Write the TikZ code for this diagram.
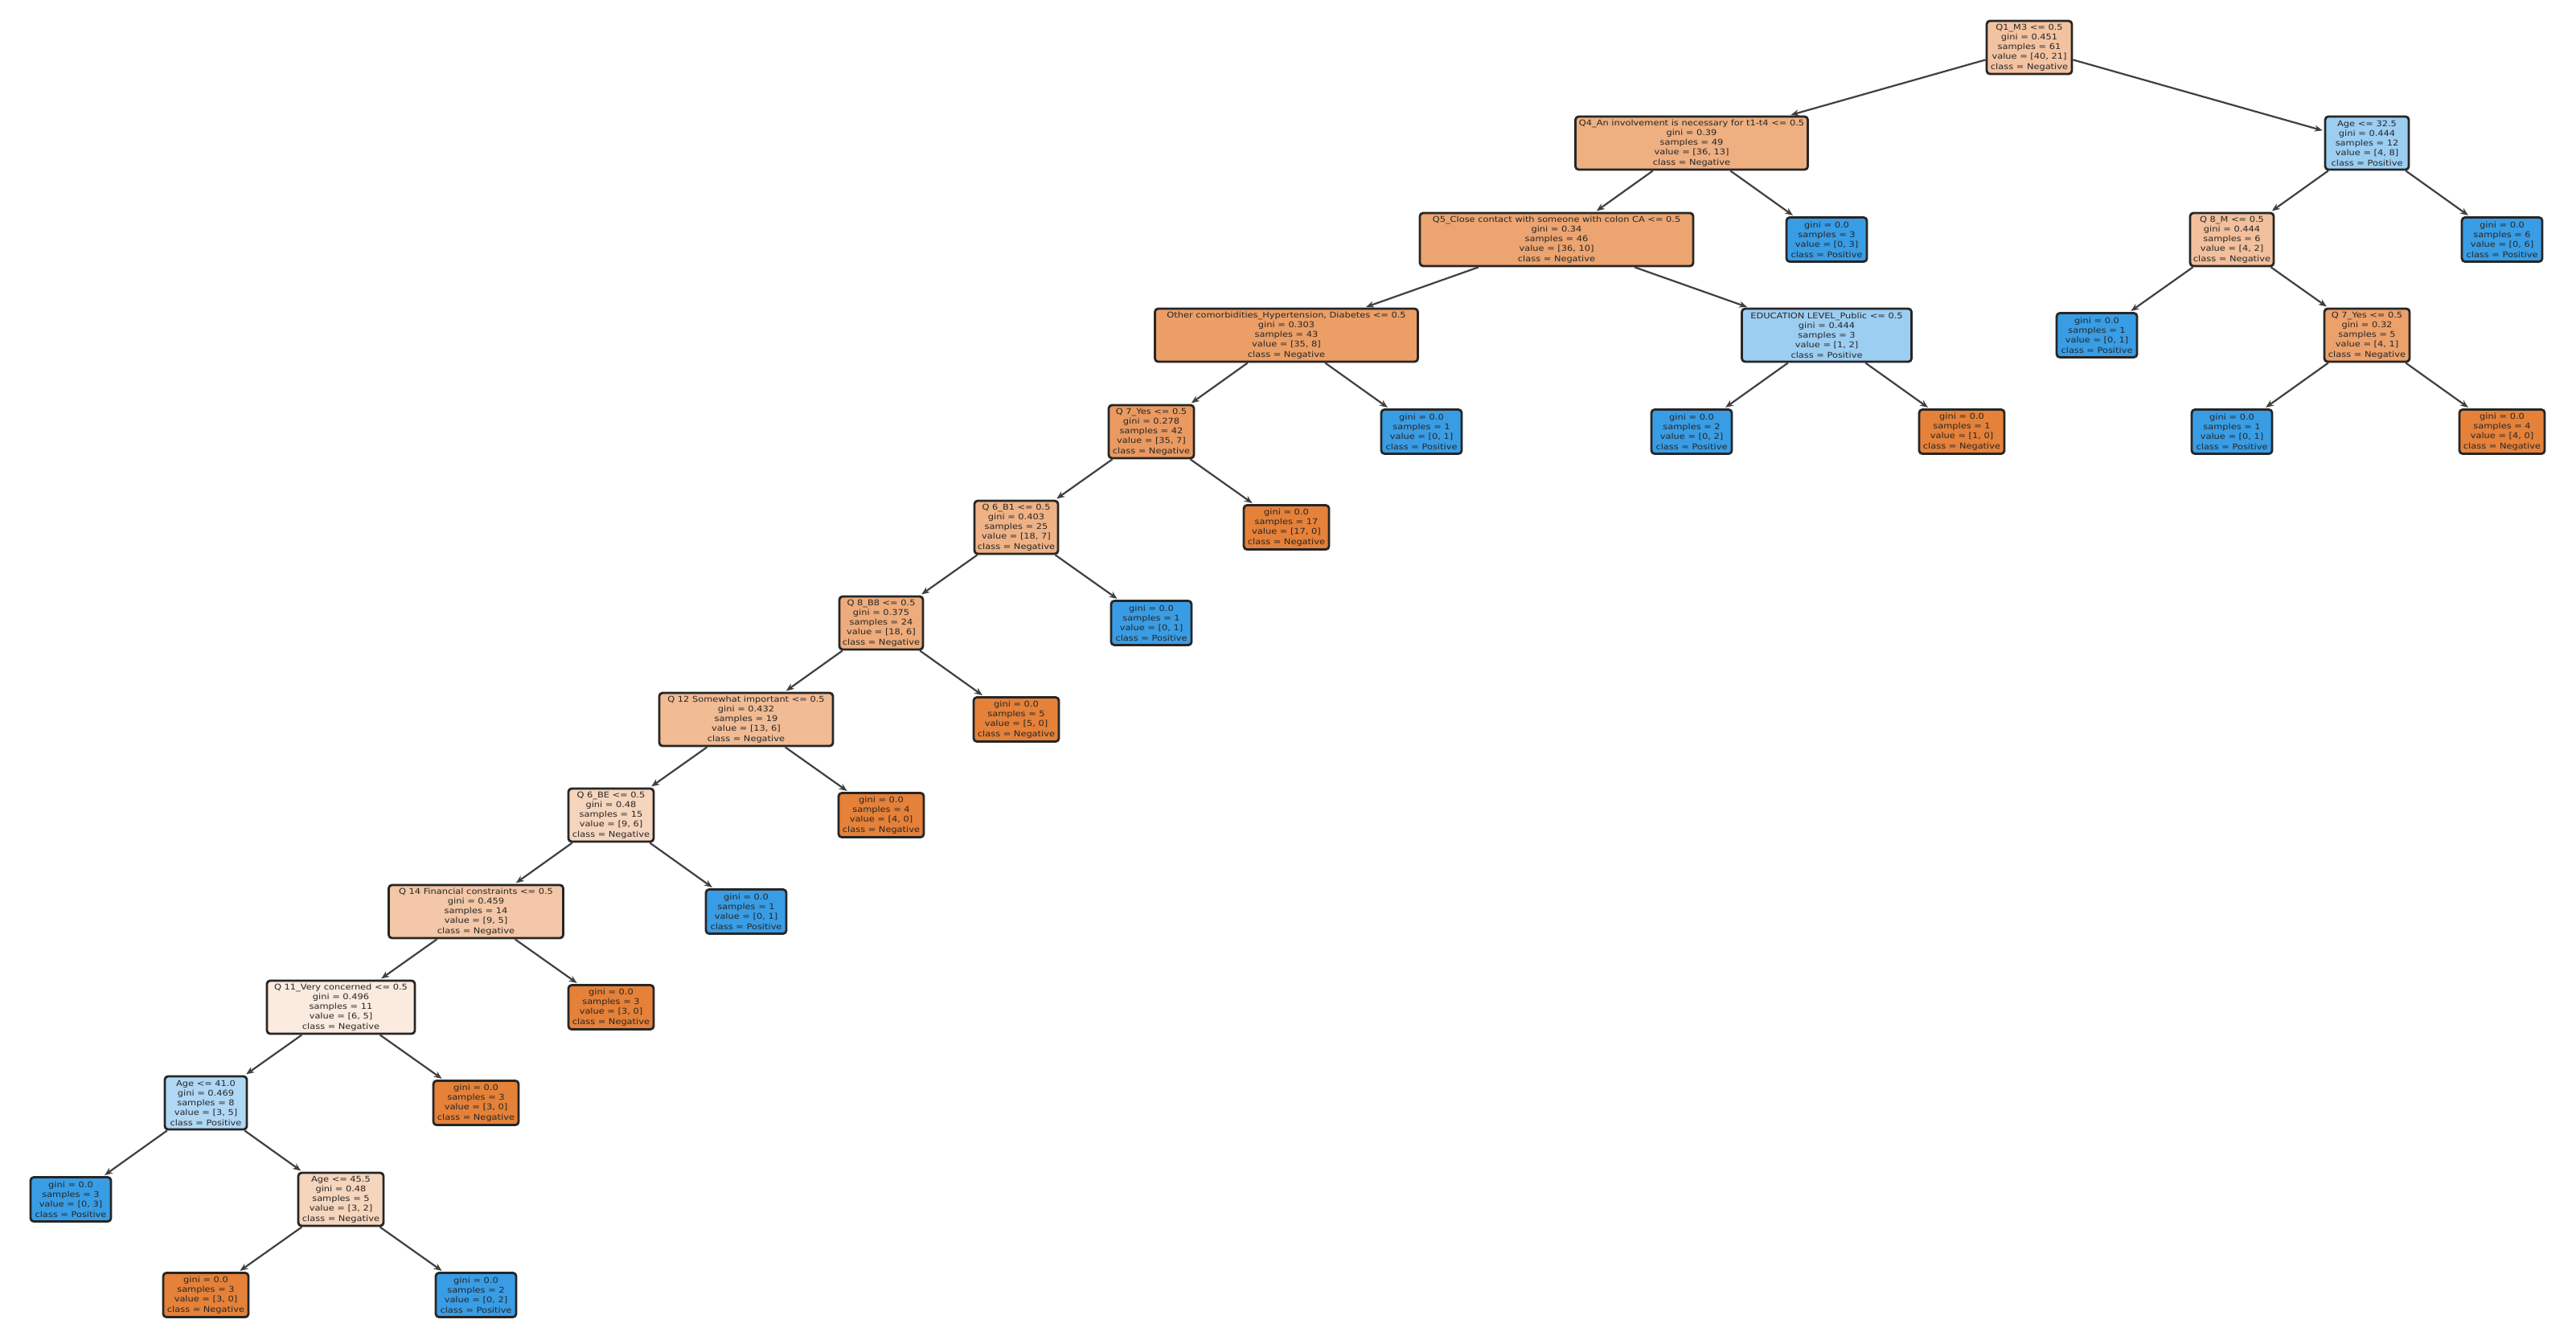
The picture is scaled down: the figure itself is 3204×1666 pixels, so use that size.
\documentclass[tikz,border=0pt]{standalone}
\usepackage{fontspec}
\setmainfont[FakeStretch=1.15]{DejaVu Sans}
\usetikzlibrary{arrows.meta}
\definecolor{cOr}{RGB}{229,129,57}
\definecolor{cBl}{RGB}{57,157,229}
\definecolor{cRoot}{RGB}{243,195,161}
\definecolor{cQfour}{RGB}{238,175,129}
\definecolor{cAthree}{RGB}{156,206,242}
\definecolor{cQfive}{RGB}{236,164,112}
\definecolor{cQeightr}{RGB}{242,192,156}
\definecolor{cOther}{RGB}{235,158,102}
\definecolor{cEdu}{RGB}{156,206,242}
\definecolor{cQCr}{RGB}{236,161,107}
\definecolor{cQCY}{RGB}{234,154,97}
\definecolor{cQsixb}{RGB}{239,178,134}
\definecolor{cQeightb}{RGB}{238,171,123}
\definecolor{cQtwelve}{RGB}{241,187,148}
\definecolor{cQsixe}{RGB}{246,213,189}
\definecolor{cQfourteen}{RGB}{243,199,167}
\definecolor{cQeleven}{RGB}{251,234,222}
\definecolor{cAfortyone}{RGB}{176,216,245}
\definecolor{cAfortyfive}{RGB}{246,213,189}
\tikzset{
  tn/.style={draw=black!85, line width=1.4pt, rounded corners=2pt, align=center,
    inner sep=1pt, font=\fontsize{4.95}{6.1}\selectfont, text=black!85},
  split/.style={tn, minimum height=33pt},
  leaf/.style={tn, minimum height=27.5pt},
  lo/.style={leaf, fill=cOr, minimum width=53pt},
  lb/.style={leaf, fill=cBl, minimum width=50pt},
  edge/.style={draw=black!75, line width=1.1pt, -{Stealth[length=5pt,width=4pt]}, shorten >=1pt},
}
\begin{document}
\begin{tikzpicture}[x=0.5pt,y=-0.5pt]
\fill[white] (0,0) rectangle (3204,1666);
\useasboundingbox (0,0) rectangle (3204,1666);
% row 0
\node[split, fill=cRoot, minimum width=53pt] (root) at (2524,59) {Q1\_M3 <= 0.5\\gini = 0.451\\samples = 61\\value = [40, 21]\\class = Negative};
% row 1
\node[split, fill=cQfour, minimum width=144.5pt] (q4) at (2104,178) {Q4\_An involvement is necessary for t1-t4 <= 0.5\\gini = 0.39\\samples = 49\\value = [36, 13]\\class = Negative};
\node[split, fill=cAthree, minimum width=52pt] (a325) at (2944,178) {Age <= 32.5\\gini = 0.444\\samples = 12\\value = [4, 8]\\class = Positive};
% row 2
\node[split, fill=cQfive, minimum width=170pt] (q5) at (1936,298) {Q5\_Close contact with someone with colon CA <= 0.5\\gini = 0.34\\samples = 46\\value = [36, 10]\\class = Negative};
\node[lb] (lb1) at (2272,298) {gini = 0.0\\samples = 3\\value = [0, 3]\\class = Positive};
\node[split, fill=cQeightr, minimum width=52pt] (q8r) at (2776,298) {Q 8\_M <= 0.5\\gini = 0.444\\samples = 6\\value = [4, 2]\\class = Negative};
\node[lb] (lb2) at (3112,298) {gini = 0.0\\samples = 6\\value = [0, 6]\\class = Positive};
% row 3
\node[split, fill=cOther, minimum width=163.5pt] (oth) at (1600,417) {Other comorbidities\_Hypertension, Diabetes <= 0.5\\gini = 0.303\\samples = 43\\value = [35, 8]\\class = Negative};
\node[split, fill=cEdu, minimum width=105.5pt] (edu) at (2272,417) {EDUCATION LEVEL\_Public <= 0.5\\gini = 0.444\\samples = 3\\value = [1, 2]\\class = Positive};
\node[lb] (lb3) at (2608,417) {gini = 0.0\\samples = 1\\value = [0, 1]\\class = Positive};
\node[split, fill=cQCr, minimum width=53pt] (qcr) at (2944,417) {Q 7\_Yes <= 0.5\\gini = 0.32\\samples = 5\\value = [4, 1]\\class = Negative};
% row 4
\node[split, fill=cQCY, minimum width=53pt] (qcy) at (1432,537) {Q 7\_Yes <= 0.5\\gini = 0.278\\samples = 42\\value = [35, 7]\\class = Negative};
\node[lb] (lb4) at (1768,537) {gini = 0.0\\samples = 1\\value = [0, 1]\\class = Positive};
\node[lb] (lb5) at (2104,537) {gini = 0.0\\samples = 2\\value = [0, 2]\\class = Positive};
\node[lo] (lo1) at (2440,537) {gini = 0.0\\samples = 1\\value = [1, 0]\\class = Negative};
\node[lb] (lb6) at (2776,537) {gini = 0.0\\samples = 1\\value = [0, 1]\\class = Positive};
\node[lo] (lo2) at (3112,537) {gini = 0.0\\samples = 4\\value = [4, 0]\\class = Negative};
% row 5
\node[split, fill=cQsixb, minimum width=52pt] (q6b) at (1264,656) {Q 6\_B1 <= 0.5\\gini = 0.403\\samples = 25\\value = [18, 7]\\class = Negative};
\node[lo] (lo3) at (1600,656) {gini = 0.0\\samples = 17\\value = [17, 0]\\class = Negative};
% row 6
\node[split, fill=cQeightb, minimum width=52pt] (q8b) at (1096,775) {Q 8\_B8 <= 0.5\\gini = 0.375\\samples = 24\\value = [18, 6]\\class = Negative};
\node[lb] (lb7) at (1432,775) {gini = 0.0\\samples = 1\\value = [0, 1]\\class = Positive};
% row 7
\node[split, fill=cQtwelve, minimum width=108pt] (q12) at (928,895) {Q 12 Somewhat important <= 0.5\\gini = 0.432\\samples = 19\\value = [13, 6]\\class = Negative};
\node[lo] (lo4) at (1264,895) {gini = 0.0\\samples = 5\\value = [5, 0]\\class = Negative};
% row 8
\node[split, fill=cQsixe, minimum width=53pt] (q6e) at (760,1014) {Q 6\_BE <= 0.5\\gini = 0.48\\samples = 15\\value = [9, 6]\\class = Negative};
\node[lo] (lo5) at (1096,1014) {gini = 0.0\\samples = 4\\value = [4, 0]\\class = Negative};
% row 9
\node[split, fill=cQfourteen, minimum width=108.5pt] (q14) at (592,1134) {Q 14 Financial constraints <= 0.5\\gini = 0.459\\samples = 14\\value = [9, 5]\\class = Negative};
\node[lb] (lb8) at (928,1134) {gini = 0.0\\samples = 1\\value = [0, 1]\\class = Positive};
% row 10
\node[split, fill=cQeleven, minimum width=92pt] (q11) at (424,1253) {Q 11\_Very concerned <= 0.5\\gini = 0.496\\samples = 11\\value = [6, 5]\\class = Negative};
\node[lo] (lo6) at (760,1253) {gini = 0.0\\samples = 3\\value = [3, 0]\\class = Negative};
% row 11
\node[split, fill=cAfortyone, minimum width=51pt] (a41) at (256,1372) {Age <= 41.0\\gini = 0.469\\samples = 8\\value = [3, 5]\\class = Positive};
\node[lo] (lo7) at (592,1372) {gini = 0.0\\samples = 3\\value = [3, 0]\\class = Negative};
% row 12
\node[lb] (lb9) at (88,1492) {gini = 0.0\\samples = 3\\value = [0, 3]\\class = Positive};
\node[split, fill=cAfortyfive, minimum width=53pt] (a455) at (424,1492) {Age <= 45.5\\gini = 0.48\\samples = 5\\value = [3, 2]\\class = Negative};
% row 13
\node[lo] (lo8) at (256,1611) {gini = 0.0\\samples = 3\\value = [3, 0]\\class = Negative};
\node[lb] (lb10) at (592,1611) {gini = 0.0\\samples = 2\\value = [0, 2]\\class = Positive};
% edges
\draw[edge] (root) -- (q4);
\draw[edge] (root) -- (a325);
\draw[edge] (q4) -- (q5);
\draw[edge] (q4) -- (lb1);
\draw[edge] (a325) -- (q8r);
\draw[edge] (a325) -- (lb2);
\draw[edge] (q5) -- (oth);
\draw[edge] (q5) -- (edu);
\draw[edge] (q8r) -- (lb3);
\draw[edge] (q8r) -- (qcr);
\draw[edge] (oth) -- (qcy);
\draw[edge] (oth) -- (lb4);
\draw[edge] (edu) -- (lb5);
\draw[edge] (edu) -- (lo1);
\draw[edge] (qcr) -- (lb6);
\draw[edge] (qcr) -- (lo2);
\draw[edge] (qcy) -- (q6b);
\draw[edge] (qcy) -- (lo3);
\draw[edge] (q6b) -- (q8b);
\draw[edge] (q6b) -- (lb7);
\draw[edge] (q8b) -- (q12);
\draw[edge] (q8b) -- (lo4);
\draw[edge] (q12) -- (q6e);
\draw[edge] (q12) -- (lo5);
\draw[edge] (q6e) -- (q14);
\draw[edge] (q6e) -- (lb8);
\draw[edge] (q14) -- (q11);
\draw[edge] (q14) -- (lo6);
\draw[edge] (q11) -- (a41);
\draw[edge] (q11) -- (lo7);
\draw[edge] (a41) -- (lb9);
\draw[edge] (a41) -- (a455);
\draw[edge] (a455) -- (lo8);
\draw[edge] (a455) -- (lb10);
\end{tikzpicture}
\end{document}
